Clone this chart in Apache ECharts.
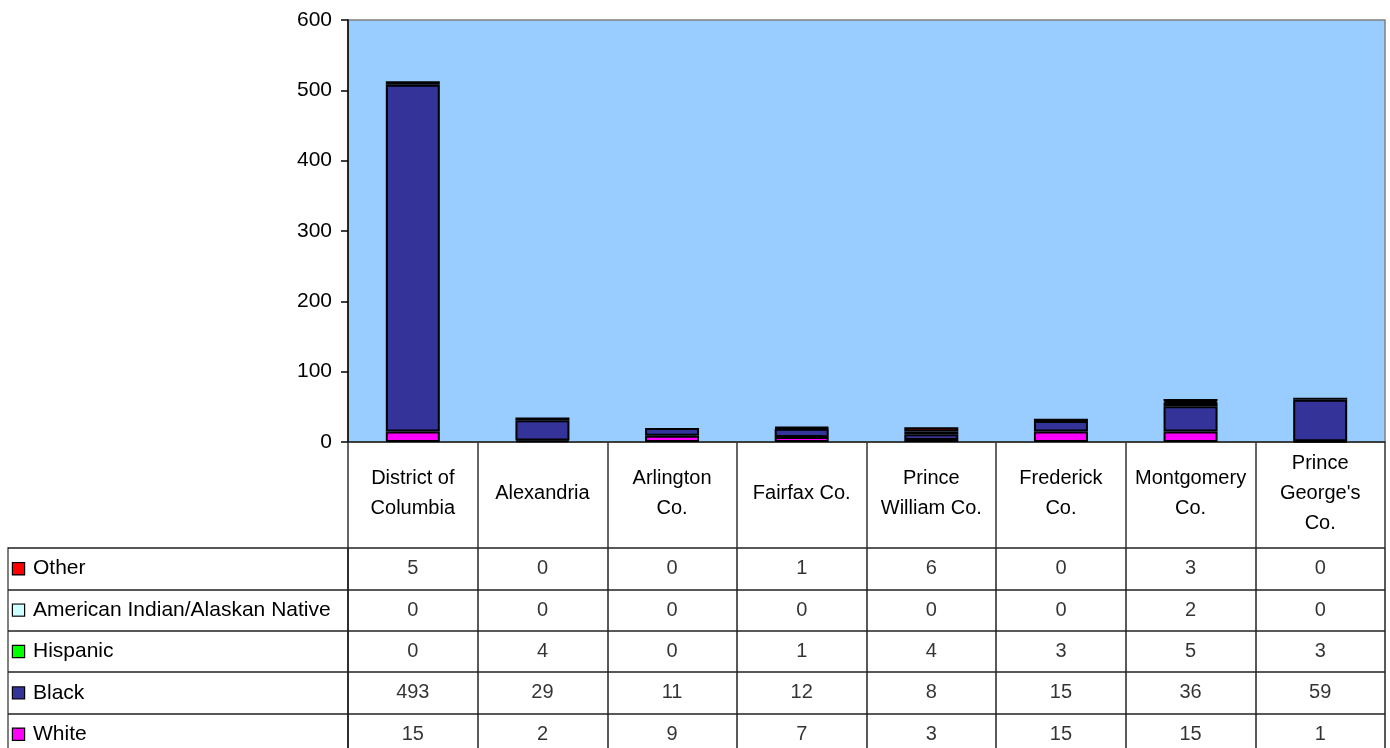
<!DOCTYPE html>
<html>
<head>
<meta charset="utf-8">
<script src="https://cdn.jsdelivr.net/npm/echarts@6/dist/echarts.min.js"></script>
<style>
html,body{margin:0;padding:0;background:#fff;overflow:hidden;}
#chart{width:1390px;height:755px;}
</style>
</head>
<body>
<div id="chart"></div>
<script>
// ---- data ----
var categories = ['District of\nColumbia', 'Alexandria', 'Arlington\nCo.', 'Fairfax Co.', 'Prince\nWilliam Co.', 'Frederick\nCo.', 'Montgomery\nCo.', "Prince\nGeorge's\nCo."];
var seriesNames = ['White', 'Black', 'Hispanic', 'American Indian/Alaskan Native', 'Other'];
var white    = [15, 2, 9, 7, 3, 15, 15, 1];
var black    = [493, 29, 11, 12, 8, 15, 36, 59];
var hispanic = [0, 4, 0, 1, 4, 3, 5, 3];
var amInd    = [0, 0, 0, 0, 0, 0, 2, 0];
var other    = [5, 0, 0, 1, 6, 0, 3, 0];
var yTicks   = [0, 100, 200, 300, 400, 500, 600];
var seriesColors = ['#FF00FF', '#333399', '#00FF00', '#CCFFFF', '#FF0000'];
var seriesValues = [white, black, hispanic, amInd, other];

var FONT = "'Liberation Sans', Arial, sans-serif";
var FS = 21;

var chart = echarts.init(document.getElementById('chart'), null, {renderer: 'canvas'});

var series = [];
// stacked bars
seriesValues.forEach(function (vals, s) {
  series.push({
    name: seriesNames[s],
    type: 'bar',
    xAxisIndex: 0, yAxisIndex: 0,
    stack: 'total',
    barWidth: 54,
    itemStyle: {color: seriesColors[s], borderColor: '#000', borderWidth: 2},
    data: vals.map(function (v) { return v === 0 ? '-' : v; }),
    animation: false
  });
});
// data table text
seriesValues.forEach(function (vals, s) {
  series.push({
    name: 'table-' + seriesNames[s],
    type: 'scatter',
    xAxisIndex: 1, yAxisIndex: 1,
    symbolSize: 1,
    itemStyle: {color: 'rgba(0,0,0,0)'},
    silent: true,
    label: {
      show: true, position: 'inside', color: '#000',
      fontFamily: FONT, fontSize: FS - 1,
      formatter: function (p) { return String(p.value[2]); }
    },
    data: vals.map(function (v, i) { return [i, s, v]; }),
    animation: false
  });
});

var rich = {t: {fontFamily: FONT, fontSize: FS, color: '#000', padding: [0, 0, 0, 9]}};
seriesColors.forEach(function (c, i) {
  rich['b' + i] = {width: 11, height: 11, backgroundColor: c, borderColor: '#000', borderWidth: 1.2};
});

var option = {
  backgroundColor: '#fff',
  animation: false,
  grid: [
    {left: 348, right: 5, top: 20, bottom: 313, show: true, backgroundColor: '#99CCFF', borderColor: '#808080', borderWidth: 1.5, containLabel: false},
    {left: 348, right: 5, top: 548, bottom: 0, show: false, containLabel: false}
  ],
  xAxis: [
    {
      gridIndex: 0, type: 'category', data: categories, position: 'bottom',
      axisLine: {show: true, lineStyle: {color: '#222', width: 1.5}},
      axisTick: {show: true, alignWithLabel: false, length: 106, lineStyle: {color: '#333', width: 1.5}},
      axisLabel: {show: true, interval: 0, margin: 51, verticalAlign: 'middle', fontFamily: FONT, fontSize: FS - 1, lineHeight: 30, color: '#000'},
      splitLine: {show: false}
    },
    {
      gridIndex: 1, type: 'category', data: categories, position: 'top',
      axisLine: {show: false}, axisTick: {show: false}, axisLabel: {show: false},
      splitLine: {show: true, interval: 0, lineStyle: {color: '#222', width: 1.5}}
    }
  ],
  yAxis: [
    {
      gridIndex: 0, type: 'value', min: yTicks[0], max: yTicks[yTicks.length - 1], interval: 100,
      axisLine: {show: true, lineStyle: {color: '#000', width: 1.5}},
      axisTick: {show: true, length: 7, lineStyle: {color: '#000', width: 1.5}},
      axisLabel: {show: true, margin: 16, fontFamily: FONT, fontSize: FS, color: '#000'},
      splitLine: {show: false}
    },
    {
      gridIndex: 1, type: 'category', data: seriesNames, position: 'left',
      axisLine: {show: true, lineStyle: {color: '#222', width: 1.5}},
      axisTick: {show: true, alignWithLabel: false, length: 340, lineStyle: {color: '#222', width: 1.5}},
      axisLabel: {
        show: true, interval: 0, margin: 335, align: 'left',
        formatter: function (v, i) { return '{b' + i + '|}{t|' + v + '}'; },
        rich: rich
      },
      splitLine: {show: true, interval: 0, lineStyle: {color: '#222', width: 1.5}}
    },
    {
      gridIndex: 1, type: 'category', data: seriesNames, position: 'left', offset: 340,
      axisLine: {show: true, lineStyle: {color: '#808080', width: 2}},
      axisTick: {show: false}, axisLabel: {show: false}, splitLine: {show: false}
    }
  ],
  series: series
};
chart.setOption(option);
</script>
</body>
</html>
